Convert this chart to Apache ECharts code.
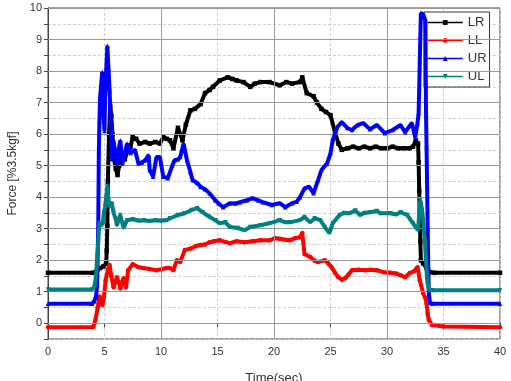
<!DOCTYPE html>
<html>
<head>
<meta charset="utf-8">
<script src="https://cdn.jsdelivr.net/npm/echarts@6/dist/echarts.min.js"></script>
<style>html,body{margin:0;padding:0;background:#fff}#c{width:511px;height:381px}</style>
</head>
<body>
<div id="c"></div>
<script>
// Time (s), Force values
const seriesNames = ['LR', 'LL', 'UR', 'UL'];
const xTicks = [0, 5, 10, 15, 20, 25, 30, 35, 40];
const yTicks = [0, 1, 2, 3, 4, 5, 6, 7, 8, 9, 10];
const majorX = [10, 20, 30];

const lr = [[0,1.6],[4.0,1.6],[4.3,1.65],[4.6,1.75],[4.9,1.8],[5.15,1.9],[5.2,2.3],[5.25,3.1],[5.3,4.5],[5.4,6.0],[5.5,6.9],[5.6,6.6],[5.7,6.0],[5.85,5.2],[6.0,4.9],[6.15,4.7],[6.3,5.0],[6.5,5.2],[6.8,5.2],[7.0,5.45],[7.3,5.6],[7.5,5.9],[7.8,5.85],[8.1,5.7],[8.6,5.75],[9.0,5.7],[9.5,5.75],[9.9,5.7],[10.2,5.9],[10.5,5.85],[10.8,5.8],[11.1,5.55],[11.5,6.2],[11.9,5.8],[12.2,6.3],[12.6,6.75],[13.0,6.8],[13.5,6.95],[13.9,7.3],[14.3,7.4],[14.6,7.5],[15.2,7.7],[15.9,7.8],[16.3,7.75],[16.7,7.7],[17.3,7.65],[17.9,7.5],[18.3,7.6],[18.8,7.65],[19.6,7.65],[20.5,7.55],[21.1,7.65],[21.6,7.6],[22.3,7.65],[22.5,7.8],[22.9,7.3],[23.5,7.2],[23.8,7.0],[24.2,6.8],[24.6,6.7],[25.0,6.6],[25.4,6.06],[25.7,5.7],[26.0,5.5],[26.5,5.55],[27.0,5.6],[27.5,5.55],[28.0,5.6],[28.5,5.55],[29.0,5.6],[29.5,5.55],[30.0,5.55],[30.5,5.6],[31.0,5.55],[31.5,5.55],[32.0,5.55],[32.3,5.6],[32.55,5.8],[32.75,5.7],[32.8,5.1],[32.85,4.2],[32.9,3.3],[32.95,2.6],[33.0,2.0],[33.2,1.9],[33.5,1.75],[33.8,1.62],[34.2,1.6],[40,1.6]];

const ll = [[0,-0.13],[4.0,-0.12],[4.2,0.1],[4.4,0.5],[4.55,0.85],[4.7,0.75],[4.8,0.57],[4.95,0.83],[5.1,1.36],[5.3,1.7],[5.45,1.85],[5.6,1.5],[5.8,1.14],[5.95,1.3],[6.1,1.46],[6.25,1.3],[6.4,1.1],[6.55,1.3],[6.7,1.43],[6.9,1.14],[7.1,1.68],[7.5,1.87],[8.0,1.78],[8.4,1.75],[9.0,1.72],[9.6,1.68],[10.5,1.75],[10.8,1.75],[11.1,1.68],[11.4,2.0],[11.7,1.94],[12.1,2.32],[12.7,2.38],[13.1,2.45],[13.5,2.48],[13.9,2.5],[14.3,2.57],[14.7,2.6],[15.2,2.63],[15.7,2.58],[16.1,2.54],[16.7,2.6],[17.4,2.57],[18.1,2.6],[18.8,2.63],[19.6,2.63],[20.1,2.7],[20.5,2.68],[21.0,2.65],[21.4,2.63],[21.9,2.7],[22.3,2.73],[22.5,2.86],[22.7,2.2],[23.2,2.1],[23.6,1.98],[23.9,1.94],[24.5,2.0],[24.8,1.9],[25.1,1.78],[25.4,1.6],[25.7,1.46],[26.0,1.38],[26.3,1.43],[26.6,1.55],[26.9,1.68],[27.5,1.7],[28.1,1.68],[28.5,1.7],[29.1,1.68],[29.7,1.62],[30.3,1.6],[30.8,1.58],[31.2,1.52],[31.6,1.46],[32.0,1.59],[32.4,1.65],[32.7,1.78],[32.9,1.36],[33.2,0.95],[33.4,0.8],[33.5,0.63],[33.6,0.3],[33.7,0.1],[34.0,-0.06],[35,-0.1],[40,-0.13]];

const ur = [[0,0.62],[3.9,0.62],[4.1,0.7],[4.25,0.85],[4.35,1.2],[4.4,2.2],[4.45,3.2],[4.5,5.45],[4.55,6.4],[4.6,7.1],[4.7,7.55],[4.8,7.97],[4.9,6.65],[5.0,6.1],[5.05,7.1],[5.15,8.0],[5.25,8.8],[5.35,8.1],[5.45,7.4],[5.55,6.4],[5.65,5.2],[5.8,5.8],[5.95,5.4],[6.1,5.07],[6.25,5.5],[6.4,5.8],[6.5,5.4],[6.6,5.07],[6.8,5.4],[7.0,5.7],[7.3,5.4],[7.7,5.5],[8.0,5.07],[8.3,5.1],[8.6,5.17],[8.9,5.33],[9.0,4.86],[9.3,4.65],[9.6,5.27],[9.9,5.27],[10.2,4.65],[10.6,4.6],[11.0,5.0],[11.2,5.17],[11.5,5.2],[11.7,5.27],[12.0,5.7],[12.3,5.17],[12.6,4.8],[12.8,4.54],[13.2,4.45],[13.5,4.33],[13.9,4.25],[14.3,4.12],[14.8,3.9],[15.1,3.8],[15.5,3.68],[16.1,3.81],[16.6,3.8],[17.0,3.84],[17.6,3.9],[18.1,3.97],[18.6,3.9],[19.0,3.84],[19.8,3.75],[20.5,3.81],[21.0,3.68],[21.6,3.81],[22.0,3.85],[22.3,4.0],[22.7,4.28],[23.1,4.33],[23.5,4.12],[23.9,4.54],[24.2,4.86],[24.7,5.07],[25.0,5.39],[25.2,5.81],[25.6,6.22],[26.0,6.38],[26.5,6.19],[26.9,6.13],[27.4,6.29],[27.9,6.35],[28.5,6.15],[29.1,6.29],[29.8,6.03],[30.5,6.13],[31.2,6.29],[31.6,6.06],[32.2,6.35],[32.5,5.9],[32.7,6.35],[32.8,6.66],[32.85,7.45],[32.9,8.3],[32.95,9.1],[33.0,9.84],[33.2,9.8],[33.4,9.6],[33.45,6.76],[33.5,5.59],[33.55,4.38],[33.6,3.0],[33.65,1.8],[33.7,0.95],[33.8,0.65],[34.0,0.62],[40,0.62]];

const ul = [[0,1.07],[3.9,1.07],[4.1,1.15],[4.25,1.5],[4.35,2.1],[4.45,2.6],[4.55,3.17],[4.7,3.1],[4.85,3.17],[4.95,3.5],[5.05,3.7],[5.15,4.0],[5.25,4.35],[5.35,3.9],[5.5,3.7],[5.65,3.8],[5.8,3.5],[6.0,3.3],[6.1,3.1],[6.25,3.3],[6.4,3.43],[6.55,3.2],[6.7,3.02],[6.85,3.15],[7.0,3.27],[7.5,3.3],[8.0,3.25],[8.5,3.27],[9.0,3.24],[9.5,3.27],[10.0,3.25],[10.5,3.27],[10.8,3.33],[11.5,3.43],[12.1,3.49],[12.7,3.59],[13.2,3.65],[13.7,3.52],[14.3,3.37],[14.8,3.27],[15.2,3.17],[15.7,3.2],[16.1,3.05],[16.8,3.02],[17.4,2.95],[17.9,3.05],[18.8,3.11],[19.6,3.17],[20.5,3.27],[21.0,3.2],[21.4,3.2],[22.3,3.27],[22.7,3.37],[23.2,3.2],[23.6,3.33],[24.1,3.27],[24.5,3.05],[24.9,2.86],[25.2,3.17],[25.8,3.43],[26.2,3.5],[26.7,3.49],[27.2,3.58],[27.6,3.43],[28.0,3.5],[28.5,3.52],[29.1,3.56],[29.4,3.49],[30.3,3.49],[30.8,3.45],[31.2,3.52],[31.8,3.43],[32.3,3.17],[32.6,3.02],[32.75,2.95],[32.85,3.5],[32.95,3.9],[33.1,3.6],[33.2,3.27],[33.35,2.63],[33.45,2.0],[33.55,1.36],[33.7,1.07],[34.0,1.05],[40,1.05]];

const colors = ['#000000', '#ff0000', '#0000ff', '#008080'];
const symbols = ['rect', 'circle', 'triangle', 'path://M0,0 L10,0 L5,10 Z'];
const dataSets = [lr, ll, ur, ul];

const chart = echarts.init(document.getElementById('c'), null, {renderer: 'canvas'});
const font = 'Liberation Sans, Arial, sans-serif';

const series = [{
  name: 'grid', type: 'line', data: [], z: 0, silent: true,
  xAxisIndex: 0, yAxisIndex: 0,
  markLine: {
    silent: true, symbol: 'none', label: {show: false},
    lineStyle: {color: '#9a9a9a', type: 'solid', width: 1},
    animation: false,
    data: yTicks.map(v => ({yAxis: v})).concat(majorX.map(v => ({xAxis: v})))
  }
}];
seriesNames.forEach((n, i) => {
  series.push({
    name: n, type: 'line', data: dataSets[i], z: 3 + i,
    xAxisIndex: 0, yAxisIndex: 0,
    symbol: symbols[i], symbolSize: 4.5, showSymbol: true, showAllSymbol: true,
    lineStyle: {color: colors[i], width: 4},
    itemStyle: {color: colors[i]},
    animation: false
  });
});

const isInt = v => Math.abs(v - Math.round(v)) < 1e-6;

chart.setOption({
  backgroundColor: '#fff',
  animation: false,
  grid: {left: 48, right: 11, top: 8, bottom: 42, show: true, borderColor: '#444', borderWidth: 1,
    backgroundColor: '#fff', containLabel: false, outerBoundsMode: 'none'},
  legend: {
    data: seriesNames, orient: 'vertical', left: 424, top: 12,
    padding: [4, 3, 4, 3], itemGap: 5, itemWidth: 35, itemHeight: 6,
    backgroundColor: '#fff', borderColor: '#333', borderWidth: 1,
    lineStyle: {width: 1.5},
    textStyle: {fontFamily: font, fontSize: 13, color: '#333'}
  },
  xAxis: [{
    type: 'value', min: 0, max: 40, interval: 5, position: 'bottom',
    name: 'Time(sec)', nameLocation: 'middle', nameGap: 33,
    nameTextStyle: {fontFamily: font, fontSize: 13, color: '#333'},
    axisLine: {show: true, lineStyle: {color: '#444'}},
    axisTick: {show: true, inside: false, length: 4, lineStyle: {color: '#444'}},
    axisLabel: {fontFamily: font, fontSize: 11, color: '#333', margin: 7},
    splitLine: {show: true, lineStyle: {color: '#cfcfcf', type: [3, 2], width: 1}}
  }, {
    type: 'value', min: 0, max: 40, interval: 5, position: 'top',
    axisLine: {show: true, lineStyle: {color: '#444'}},
    axisTick: {show: true, inside: true, length: 4, lineStyle: {color: '#444'}},
    axisLabel: {show: false}, splitLine: {show: false}
  }],
  yAxis: [{
    type: 'value', min: -0.5, max: 10, interval: 0.5, position: 'left',
    name: 'Force [%3.5kgf]', nameLocation: 'middle', nameRotate: 90, nameGap: 29,
    nameTextStyle: {fontFamily: font, fontSize: 12, color: '#333'},
    axisLine: {show: true, lineStyle: {color: '#444'}},
    axisTick: {show: true, inside: false, length: 3, lineStyle: {color: '#444'}},
    axisLabel: {fontFamily: font, fontSize: 11, color: '#333', margin: 6,
      formatter: v => isInt(v) ? String(Math.round(v)) : ''},
    splitLine: {show: true, lineStyle: {color: '#cfcfcf', type: [3, 2], width: 1}}
  }, {
    type: 'value', min: -0.5, max: 10, interval: 0.5, position: 'right',
    axisLine: {show: true, lineStyle: {color: '#444'}},
    axisTick: {show: true, inside: true, length: 4, lineStyle: {color: '#444'}},
    axisLabel: {show: false}, splitLine: {show: false}
  }],
  series: series
});
</script>
</body>
</html>
